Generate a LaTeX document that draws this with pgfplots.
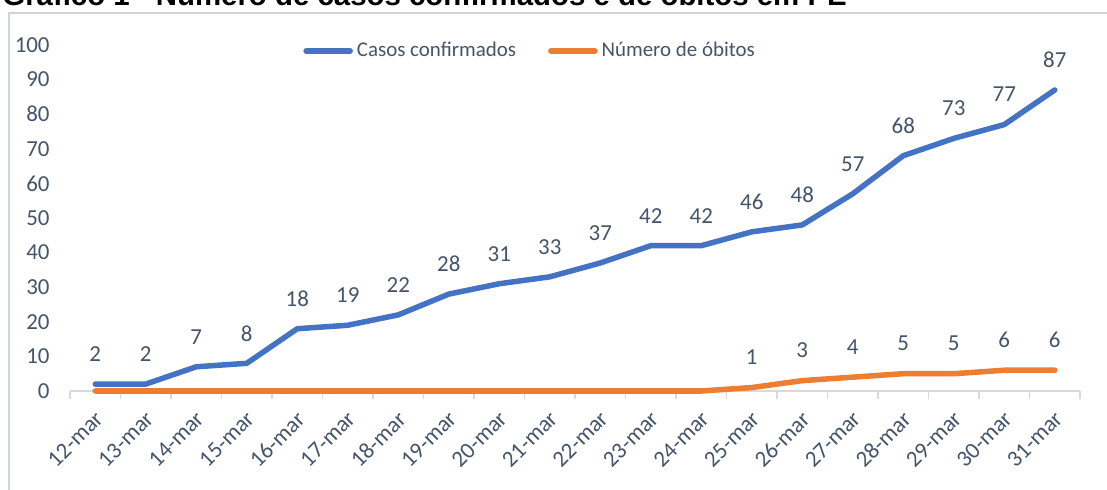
\documentclass[border=0pt]{standalone}
\usepackage{pgfplots}
\pgfplotsset{compat=1.18}
\usepackage{fontspec}
\setmainfont{Carlito}
\newfontfamily\titlefont{Liberation Sans}
\definecolor{casos}{HTML}{4472C4}
\definecolor{obitos}{HTML}{ED7D31}
\definecolor{txt}{HTML}{44546A}
\definecolor{grade}{HTML}{D9D9D9}
\definecolor{moldura}{HTML}{D0D4DA}
\begin{document}
\begin{tikzpicture}
\path[use as bounding box, clip] (0bp,0bp) rectangle (553.5bp,245bp);
% moldura do grafico
\draw[moldura, line width=1bp] (4.25bp,-20bp) -- (4.25bp,238.5bp) -- (600bp,238.5bp);
\node[anchor=base west, inner sep=0pt, font=\titlefont\bfseries\fontsize{14.75}{16}\selectfont]
  at (1bp,242bp) {Gráfico 1 - Número de casos confirmados e de óbitos em PE};
\begin{axis}[
  at={(35bp,49.5bp)}, anchor=south west,
  scale only axis, width=505bp, height=173bp,
  xmin=-0.5, xmax=19.5, ymin=0, ymax=100,
  clip=false,
  /pgf/number format/assume math mode=true,
  axis x line*=bottom, axis y line*=left,
  x axis line style={grade, line width=0.75bp},
  y axis line style={draw=none},
  major tick length=0pt,
  xtick={0,...,19},
  xticklabels={12-mar,13-mar,14-mar,15-mar,16-mar,17-mar,18-mar,19-mar,20-mar,21-mar,22-mar,23-mar,24-mar,25-mar,26-mar,27-mar,28-mar,29-mar,30-mar,31-mar},
  extra x ticks={-0.5,0.5,...,19.5},
  extra x tick labels={},
  extra x tick style={major tick length=4bp, tick align=outside, tick style={grade, line width=0.75bp}},
  ytick={0,10,...,100},
  ytick style={draw=none},
  tick label style={font=\fontsize{11.5}{13}\selectfont, text=txt},
  xticklabel style={xshift=2bp, yshift=-12bp, rotate=45, anchor=east, inner sep=0pt},
  yticklabel style={anchor=east, inner sep=0pt, xshift=-10bp},
  every node near coord/.append style={anchor=center, yshift=15bp, font=\fontsize{11.5}{13}\selectfont, text=txt, inner sep=0pt},
  legend columns=2,
  legend style={at={(0.2307,0.983)}, anchor=west, draw=none, fill=none, inner sep=0pt,
    font=\fontsize{10.5}{12}\selectfont, text=txt,
    nodes={inner sep=0pt},
    /tikz/every odd column/.style={column sep=2bp},
    /tikz/every even column/.style={column sep=16bp}},
  legend cell align=left,
  legend image code/.code={\draw[#1, line cap=round] (1.25bp,0bp) -- (23.25bp,0bp);},
]
\addplot[casos, line width=2.75bp, line cap=round, line join=round, nodes near coords]
  coordinates {(0,2)(1,2)(2,7)(3,8)(4,18)(5,19)(6,22)(7,28)(8,31)(9,33)
  (10,37)(11,42)(12,42)(13,46)(14,48)(15,57)(16,68)(17,73)(18,77)(19,87)};
\addlegendentry{Casos confirmados}
\addplot[obitos, line width=2.75bp, line cap=round, line join=round]
  coordinates {(0,0)(1,0)(2,0)(3,0)(4,0)(5,0)(6,0)(7,0)(8,0)(9,0)
  (10,0)(11,0)(12,0)(13,1)(14,3)(15,4)(16,5)(17,5)(18,6)(19,6)};
\addlegendentry{Número de óbitos}
\addplot[draw=none, forget plot, nodes near coords]
  coordinates {(13,1)(14,3)(15,4)(16,5)(17,5)(18,6)(19,6)};
\end{axis}
\end{tikzpicture}
\end{document}
